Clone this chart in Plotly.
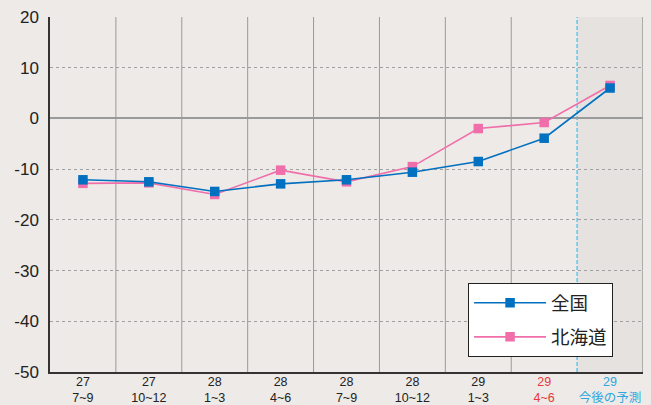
import plotly.graph_objects as go

categories = ["27<br>7~9", "27<br>10~12", "28<br>1~3", "28<br>4~6", "28<br>7~9",
              "28<br>10~12", "29<br>1~3", "29<br>4~6", "29<br>今後の予測"]
label_colors = ["#222222"] * 7 + ["#E8383D", "#2EA7E0"]
zenkoku = [-12.1, -12.5, -14.4, -12.9, -12.1, -10.6, -8.5, -3.9, 6.0]
hokkaido = [-12.8, -12.7, -15.0, -10.2, -12.5, -9.5, -2.0, -0.8, 6.5]
y_ticks = [20, 10, 0, -10, -20, -30, -40, -50]

x = list(range(len(categories)))
ticktext = [f"<span style='color:{c}'>{t}</span>" for t, c in zip(categories, label_colors)]

fig = go.Figure()
fig.add_trace(go.Scatter(x=x, y=hokkaido, name="北海道", mode="lines+markers",
                         legendgroup="b", legendrank=2,
                         line=dict(color="#F06EAA", width=1.6),
                         marker=dict(symbol="square", size=9.5, color="#F06EAA")))
fig.add_trace(go.Scatter(x=x, y=zenkoku, name="全国", mode="lines+markers",
                         legendgroup="a", legendrank=1,
                         line=dict(color="#0070C0", width=1.6),
                         marker=dict(symbol="square", size=9.5, color="#0070C0")))

last = len(categories) - 1
fig.add_shape(type="rect", xref="x", yref="paper", x0=last - 0.5, x1=last + 0.5, y0=0, y1=1,
              fillcolor="#E5E2DF", line_width=0, layer="below")
for i in range(1, len(categories)):
    if i == last:
        continue
    fig.add_shape(type="line", xref="x", yref="paper", x0=i - 0.5, x1=i - 0.5, y0=0, y1=1,
                  line=dict(color="#9A9A9A", width=1), layer="below")
fig.add_shape(type="line", xref="x", yref="paper", x0=last - 0.5, x1=last - 0.5, y0=0, y1=1,
              line=dict(color="#5BC8EE", width=1.5, dash="4px,2px"), layer="below")
fig.add_shape(type="line", xref="x", yref="paper", x0=last + 0.5, x1=last + 0.5, y0=0, y1=1,
              line=dict(color="#9A9A9A", width=1.5), layer="below")

fig.update_layout(
    width=651, height=405,
    margin=dict(l=50, r=8, t=17, b=33),
    paper_bgcolor="#EDEAE7", plot_bgcolor="#EDEAE7",
    font=dict(family="Liberation Sans, Arial, Noto Sans CJK JP", color="#222222"),
    showlegend=True,
    legend=dict(x=0.705, y=0.25, xanchor="left", yanchor="top",
                bgcolor="#FFFFFF", bordercolor="#222222", borderwidth=1,
                font=dict(size=18.5, family="Noto Sans CJK JP, Liberation Sans", color="#222222"),
                traceorder="grouped", tracegroupgap=7, itemwidth=72),
    xaxis=dict(range=[-0.5, last + 0.5], tickmode="array", tickvals=x, ticktext=ticktext,
               showgrid=False, zeroline=False, showline=True, linecolor="#333333", linewidth=1.5,
               ticks="", automargin=False, ticklabelstandoff=-3,
               tickfont=dict(size=12.5, family="Liberation Sans, Noto Sans CJK JP")),
    yaxis=dict(range=[-50, 20], tickmode="array", tickvals=y_ticks,
               ticktext=[str(v) for v in y_ticks], automargin=False,
               showgrid=True, gridcolor="#A0A0A0", griddash="dot", gridwidth=1,
               zeroline=True, zerolinecolor="#9A9A9A", zerolinewidth=1.5,
               showline=True, linecolor="#333333", linewidth=1.5,
               ticks="", ticklabelstandoff=6, tickfont=dict(size=17, color="#222222")),
)

fig.write_html("out.html", config={"displayModeBar": False},
               post_script="document.body.style.margin='0';document.body.style.overflow='hidden';document.body.style.background='#EDEAE7';")
